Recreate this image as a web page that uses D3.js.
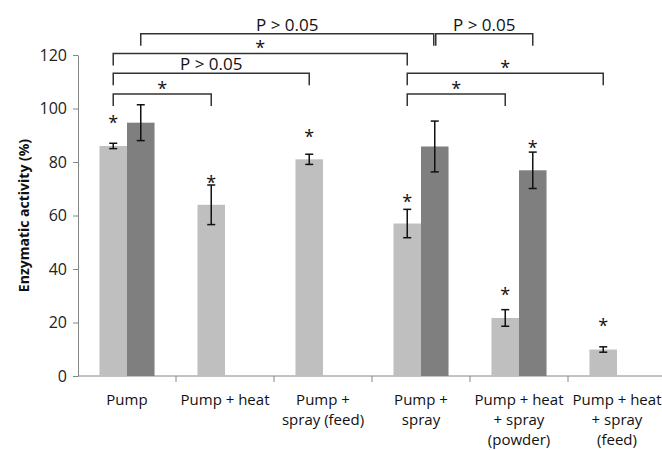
<!DOCTYPE html>
<html>
<head>
<meta charset="utf-8">
<script src="https://cdnjs.cloudflare.com/ajax/libs/d3/7.8.5/d3.min.js"></script>
<style>
  body { margin: 0; background: #fff; }
  svg { display: block; font-family: "Open Sans", sans-serif; }
</style>
</head>
<body>
<script>
var width = 662, height = 450;

// data
var categories = ["Pump", "Pump + heat", "Pump + spray (feed)", "Pump + spray",
                  "Pump + heat + spray (powder)", "Pump + heat + spray (feed)"];
var catLines = [["Pump"], ["Pump + heat"], ["Pump +", "spray (feed)"], ["Pump +", "spray"],
                ["Pump + heat", "+ spray", "(powder)"], ["Pump + heat", "+ spray", "(feed)"]];
var series = ["light", "dark"];
var lightVals = [86, 64, 81, 57, 21.7, 9.9];
var lightErr = [1, 7.4, 1.9, 5.3, 3.1, 1];
var darkVals = [94.7, null, null, 85.8, 76.9, null];
var darkErr = [6.7, null, null, 9.5, 6.8, null];
// where the "*" marks over the bars sit (value units)
var lightStar = [96, 73.6, 90.8, 66.7, 31.8, 20.2];
var darkStar = [null, null, null, null, 86.7, null];
var yTicks = [0, 20, 40, 60, 80, 100, 120];

// significance brackets: [category, series] to [category, series], level, label
var brackets = [
  { a: [0, "dark"], b: [3, "dark"], level: 127.9, label: "P > 0.05", nudge: -1 },
  { a: [3, "dark"], b: [4, "dark"], level: 127.9, label: "P > 0.05", nudge: 1 },
  { a: [0, "light"], b: [3, "light"], level: 120.6, label: "*" },
  { a: [0, "light"], b: [2, "light"], level: 113.2, label: "P > 0.05" },
  { a: [3, "light"], b: [5, "light"], level: 113.2, label: "*" },
  { a: [0, "light"], b: [1, "light"], level: 105.4, label: "*" },
  { a: [3, "light"], b: [4, "light"], level: 105.4, label: "*" }
];

var colors = { light: "#bfbfbf", dark: "#7f7f7f" };
var axisColor = "#868686";

var svg = d3.select("body")
    .append("svg")
    .attr("width", width)
    .attr("height", height);

var x = d3.scaleBand()
    .domain(categories)
    .range([78, 666])
    .padding(0);

var xSub = d3.scaleBand()
    .domain(series)
    .range([0, x.bandwidth()])
    .paddingInner(0)
    .paddingOuter(0.78);

var y = d3.scaleLinear()
    .domain([0, 120])
    .range([376, 55]);

function barCenter(ci, s) {
    return x(categories[ci]) + xSub(s) + xSub.bandwidth() / 2;
}

// y axis
var yAxis = svg.append("g")
    .attr("transform", "translate(78,0)")
    .call(d3.axisLeft(y).tickValues(yTicks).tickSize(5).tickSizeOuter(0).tickPadding(6));
yAxis.select(".domain").attr("stroke", axisColor);
yAxis.selectAll(".tick line").attr("stroke", axisColor);
yAxis.selectAll(".tick text")
    .attr("fill", "#222")
    .style("font-size", "16px")
    .style("font-family", "Open Sans, sans-serif");

// x axis line with ticks between categories
svg.append("line")
    .attr("x1", 78).attr("x2", width)
    .attr("y1", y(0)).attr("y2", y(0))
    .attr("stroke", axisColor);
svg.append("g")
    .selectAll("line")
    .data(categories.slice(1))
    .enter()
    .append("line")
    .attr("x1", function (d) { return x(d); })
    .attr("x2", function (d) { return x(d); })
    .attr("y1", y(0))
    .attr("y2", y(0) + 6)
    .attr("stroke", axisColor);

// bars
var rows = [];
for (var i = 0; i < categories.length; i++) {
    rows.push({ ci: i, s: "light", v: lightVals[i], e: lightErr[i], star: lightStar[i] });
    if (darkVals[i] !== null) {
        rows.push({ ci: i, s: "dark", v: darkVals[i], e: darkErr[i], star: darkStar[i] });
    }
}

svg.append("g")
    .selectAll("rect")
    .data(rows)
    .enter()
    .append("rect")
    .attr("x", function (d) { return x(categories[d.ci]) + xSub(d.s); })
    .attr("width", xSub.bandwidth())
    .attr("y", function (d) { return y(d.v); })
    .attr("height", function (d) { return y(0) - y(d.v); })
    .attr("fill", function (d) { return colors[d.s]; });

// error bars
var eb = svg.append("g")
    .attr("stroke", "#111")
    .attr("stroke-width", 1.5);
rows.forEach(function (d) {
    var cx = barCenter(d.ci, d.s);
    eb.append("line").attr("x1", cx).attr("x2", cx)
        .attr("y1", y(d.v + d.e)).attr("y2", y(d.v - d.e));
    eb.append("line").attr("x1", cx - 4).attr("x2", cx + 4)
        .attr("y1", y(d.v + d.e)).attr("y2", y(d.v + d.e));
    eb.append("line").attr("x1", cx - 4).attr("x2", cx + 4)
        .attr("y1", y(d.v - d.e)).attr("y2", y(d.v - d.e));
});

// stars over bars
svg.append("g")
    .selectAll("text")
    .data(rows.filter(function (d) { return d.star !== null; }))
    .enter()
    .append("text")
    .attr("x", function (d) { return barCenter(d.ci, d.s); })
    .attr("y", function (d) { return y(d.star) + 10; })
    .attr("text-anchor", "middle")
    .style("font-size", "18px")
    .attr("fill", "#111")
    .text("*");

// brackets
var bg = svg.append("g");
brackets.forEach(function (b) {
    var x1 = barCenter(b.a[0], b.a[1]) + (b.nudge > 0 ? b.nudge : 0);
    var x2 = barCenter(b.b[0], b.b[1]) + (b.nudge < 0 ? b.nudge : 0);
    var yl = y(b.level);
    bg.append("path")
        .attr("d", "M" + x1 + "," + (yl + 12) + "V" + yl + "H" + x2 + "V" + (yl + 12))
        .attr("fill", "none")
        .attr("stroke", "#333")
        .attr("stroke-width", 1.5);
    var t = bg.append("text")
        .attr("x", (x1 + x2) / 2)
        .attr("text-anchor", "middle")
        .attr("fill", "#111")
        .text(b.label);
    if (b.label === "*") {
        t.attr("y", yl + 1).style("font-size", "18px");
    } else {
        t.attr("y", yl - 3).style("font-size", "17px");
    }
});

// category labels
var cl = svg.append("g")
    .selectAll("text")
    .data(categories)
    .enter()
    .append("text")
    .attr("text-anchor", "middle")
    .attr("fill", "#111")
    .style("font-size", "15px");
cl.each(function (d, i) {
    var el = d3.select(this);
    catLines[i].forEach(function (ln, j) {
        el.append("tspan")
            .attr("x", x(d) + x.bandwidth() / 2)
            .attr("y", 405 + j * 20)
            .text(ln);
    });
});

// y title
svg.append("text")
    .attr("transform", "translate(29," + ((y(0) + y(120)) / 2) + ") rotate(-90)")
    .attr("text-anchor", "middle")
    .style("font-size", "14px")
    .style("font-weight", "bold")
    .attr("fill", "#111")
    .text("Enzymatic activity (%)");
</script>
</body>
</html>
